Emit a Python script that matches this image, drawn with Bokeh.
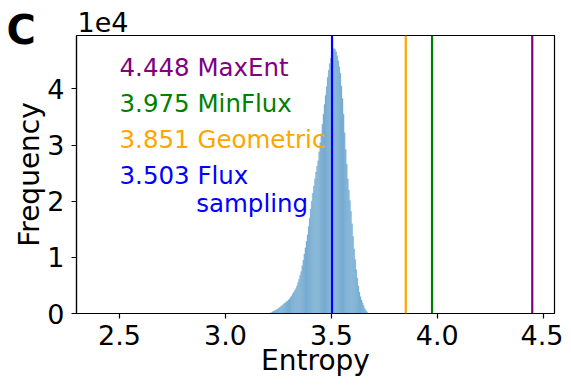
from bokeh.plotting import figure
from bokeh.models import Span, Label, Title, FixedTicker, CustomJSTickFormatter, PrintfTickFormatter, Range1d
from bokeh.embed import file_html
from bokeh.resources import INLINE

# ---------------- data ----------------
bin_start = 3.200
bin_width = 0.005
# histogram counts (units of 1e4), one per bin
freq_1e4 = [
    0.00, 0.005, 0.01, 0.02, 0.03, 0.04, 0.05, 0.06, 0.07, 0.08,
    0.10, 0.11, 0.13, 0.14, 0.16, 0.18, 0.19, 0.21, 0.22, 0.24,
    0.26, 0.29, 0.31, 0.35, 0.38, 0.41, 0.44, 0.49, 0.55, 0.61,
    0.68, 0.75, 0.85, 0.95, 1.06, 1.17, 1.28, 1.40, 1.55, 1.70,
    1.86, 2.00, 2.14, 2.27, 2.40, 2.52, 2.62, 2.72, 2.88, 3.04,
    3.20, 3.37, 3.55, 3.72, 3.88, 4.04, 4.20, 4.33, 4.45, 4.55,
    4.63, 4.69, 4.72, 4.70, 4.66, 4.59, 4.50, 4.39, 4.28, 4.05,
    3.83, 3.55, 3.22, 2.92, 2.66, 2.40, 2.20, 2.01, 1.82, 1.60,
    1.37, 1.15, 0.96, 0.78, 0.63, 0.49, 0.38, 0.30, 0.24, 0.19,
    0.14, 0.09, 0.06, 0.03, 0.01, 0.00,
]
method_values = [4.448, 3.975, 3.851, 3.503]
method_names = ["MaxEnt", "MinFlux", "Geometric", "Flux"]
method_colors = ["purple", "green", "orange", "blue"]
x_ticks = [2.5, 3.0, 3.5, 4.0, 4.5]
y_ticks = [0, 10000, 20000, 30000, 40000]

# ---------------- figure ----------------
FONT = "DejaVu Sans"
counts = [v * 1e4 for v in freq_1e4]
lefts = [bin_start + i * bin_width for i in range(len(counts))]
rights = [l + bin_width for l in lefts]

p = figure(width=563, height=379, output_backend="svg", toolbar_location=None,
           title=None,
           x_range=Range1d(2.297, 4.553), y_range=Range1d(0, 49500),
           min_border_left=76, min_border_right=9, min_border_top=35, min_border_bottom=65)
p.background_fill_color = "white"
p.border_fill_color = "white"
p.outline_line_color = "black"
p.outline_line_width = 1.2
p.xgrid.visible = False
p.ygrid.visible = False

p.quad(left=lefts, right=rights, top=counts, bottom=0,
       fill_color="#78add2", line_color="#78add2", line_width=0.3)

for v, c in zip(method_values, method_colors):
    p.add_layout(Span(location=v, dimension="height", line_color=c, line_width=2.2))

# annotation texts
text_y = [43850, 37350, 31050, 24650]
for v, n, c, ty in zip(method_values, method_names, method_colors, text_y):
    p.add_layout(Label(x=2.5, y=ty, text=f"{v:.3f} {n}", text_color=c,
                       text_font=FONT, text_font_size="24.5px", text_baseline="alphabetic"))
p.add_layout(Label(x=2.862, y=19600, text="sampling", text_color="blue",
                   text_font=FONT, text_font_size="24.5px", text_baseline="alphabetic"))

# axes
for ax in (p.xaxis[0], p.yaxis[0]):
    ax.major_label_text_font = FONT
    ax.major_label_text_font_size = "27px"
    ax.major_label_text_color = "black"
    ax.major_label_text_line_height = 0.5
    ax.axis_label_text_font = FONT
    ax.axis_label_text_font_size = "28px"
    ax.axis_label_text_font_style = "normal"
    ax.axis_label_text_color = "black"
    ax.axis_label_text_line_height = 0.5
    ax.minor_tick_line_color = None
    ax.major_tick_in = 0
    ax.major_tick_out = 5
    ax.major_tick_line_width = 1.2
    ax.axis_line_width = 1.2

p.xaxis.ticker = FixedTicker(ticks=x_ticks)
p.xaxis.formatter = PrintfTickFormatter(format="%.1f")
p.xaxis.axis_label = "Entropy"
p.xaxis.major_label_standoff = 6
p.xaxis.axis_label_standoff = -4

p.yaxis.ticker = FixedTicker(ticks=y_ticks)
p.yaxis.formatter = CustomJSTickFormatter(code="return (tick/1e4).toFixed(0);")
p.yaxis.axis_label = "Frequency"
p.yaxis.major_label_standoff = 7
p.yaxis.axis_label_standoff = -2

# panel letter and offset text (titles above the frame)
p.add_layout(Title(text="C", align="left", offset=-70, standoff=-34,
                   text_font=FONT, text_font_size="40px", text_font_style="bold",
                   text_color="black"), "above")
p.add_layout(Title(text="1e4", align="left", offset=1, standoff=-20,
                   text_font=FONT, text_font_size="27px", text_font_style="normal",
                   text_color="black"), "above")

open("out.html", "w").write(file_html(p, INLINE))
